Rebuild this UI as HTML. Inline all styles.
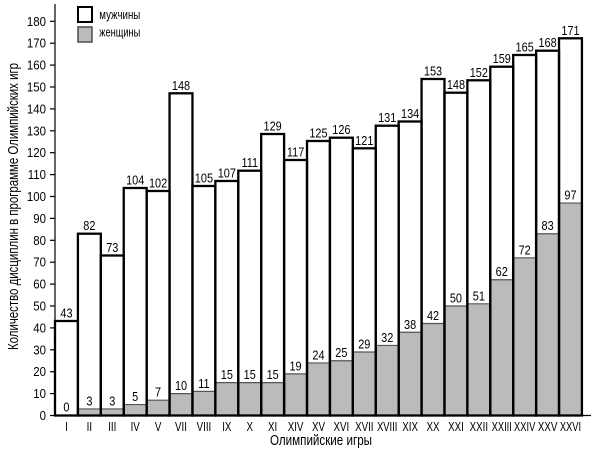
<!DOCTYPE html>
<html><head><meta charset="utf-8"><style>
html,body{margin:0;padding:0;background:#fff;}
svg{display:block;}
text{font-family:"Liberation Sans",sans-serif;fill:#000;}
</style></head><body>
<svg width="600" height="454" viewBox="0 0 600 454" xmlns="http://www.w3.org/2000/svg">
<rect x="0" y="0" width="600" height="454" fill="#fff"/>
<!-- grey (women) fills -->
<g fill="#bbbbbb" stroke="none">
<rect x="77.91" y="408.93" width="22.91" height="6.57"/>
<rect x="100.82" y="408.93" width="22.91" height="6.57"/>
<rect x="123.73" y="404.55" width="22.91" height="10.95"/>
<rect x="146.64" y="400.17" width="22.91" height="15.33"/>
<rect x="169.55" y="393.6" width="22.91" height="21.9"/>
<rect x="192.46" y="391.41" width="22.91" height="24.09"/>
<rect x="215.37" y="382.65" width="22.91" height="32.85"/>
<rect x="238.28" y="382.65" width="22.91" height="32.85"/>
<rect x="261.19" y="382.65" width="22.91" height="32.85"/>
<rect x="284.10" y="373.89" width="22.91" height="41.61"/>
<rect x="307.01" y="362.94" width="22.91" height="52.56"/>
<rect x="329.92" y="360.75" width="22.91" height="54.75"/>
<rect x="352.83" y="351.99" width="22.91" height="63.51"/>
<rect x="375.74" y="345.42" width="22.91" height="70.08"/>
<rect x="398.65" y="332.28" width="22.91" height="83.22"/>
<rect x="421.56" y="323.52" width="22.91" height="91.98"/>
<rect x="444.47" y="306.0" width="22.91" height="109.5"/>
<rect x="467.38" y="303.81" width="22.91" height="111.69"/>
<rect x="490.29" y="279.72" width="22.91" height="135.78"/>
<rect x="513.20" y="257.82" width="22.91" height="157.68"/>
<rect x="536.11" y="233.73" width="22.91" height="181.77"/>
<rect x="559.02" y="203.07" width="22.91" height="212.43"/>
</g>
<!-- grey top lines -->
<g stroke="#555" stroke-width="1.2">
<line x1="77.91" x2="100.82" y1="408.93" y2="408.93"/>
<line x1="100.82" x2="123.73" y1="408.93" y2="408.93"/>
<line x1="123.73" x2="146.64" y1="404.55" y2="404.55"/>
<line x1="146.64" x2="169.55" y1="400.17" y2="400.17"/>
<line x1="169.55" x2="192.46" y1="393.6" y2="393.6"/>
<line x1="192.46" x2="215.37" y1="391.41" y2="391.41"/>
<line x1="215.37" x2="238.28" y1="382.65" y2="382.65"/>
<line x1="238.28" x2="261.19" y1="382.65" y2="382.65"/>
<line x1="261.19" x2="284.10" y1="382.65" y2="382.65"/>
<line x1="284.10" x2="307.01" y1="373.89" y2="373.89"/>
<line x1="307.01" x2="329.92" y1="362.94" y2="362.94"/>
<line x1="329.92" x2="352.83" y1="360.75" y2="360.75"/>
<line x1="352.83" x2="375.74" y1="351.99" y2="351.99"/>
<line x1="375.74" x2="398.65" y1="345.42" y2="345.42"/>
<line x1="398.65" x2="421.56" y1="332.28" y2="332.28"/>
<line x1="421.56" x2="444.47" y1="323.52" y2="323.52"/>
<line x1="444.47" x2="467.38" y1="306.0" y2="306.0"/>
<line x1="467.38" x2="490.29" y1="303.81" y2="303.81"/>
<line x1="490.29" x2="513.20" y1="279.72" y2="279.72"/>
<line x1="513.20" x2="536.11" y1="257.82" y2="257.82"/>
<line x1="536.11" x2="559.02" y1="233.73" y2="233.73"/>
<line x1="559.02" x2="581.93" y1="203.07" y2="203.07"/>
</g>
<!-- axes -->
<g stroke="#000" stroke-width="1.2">
<line x1="55" y1="4" x2="55" y2="415.5"/>
<line x1="55" y1="415.5" x2="591" y2="415.5"/>
<line x1="50" x2="55" y1="415.5" y2="415.5"/>
<line x1="50" x2="55" y1="393.6" y2="393.6"/>
<line x1="50" x2="55" y1="371.7" y2="371.7"/>
<line x1="50" x2="55" y1="349.8" y2="349.8"/>
<line x1="50" x2="55" y1="327.9" y2="327.9"/>
<line x1="50" x2="55" y1="306.0" y2="306.0"/>
<line x1="50" x2="55" y1="284.1" y2="284.1"/>
<line x1="50" x2="55" y1="262.2" y2="262.2"/>
<line x1="50" x2="55" y1="240.3" y2="240.3"/>
<line x1="50" x2="55" y1="218.4" y2="218.4"/>
<line x1="50" x2="55" y1="196.5" y2="196.5"/>
<line x1="50" x2="55" y1="174.6" y2="174.6"/>
<line x1="50" x2="55" y1="152.7" y2="152.7"/>
<line x1="50" x2="55" y1="130.8" y2="130.8"/>
<line x1="50" x2="55" y1="108.9" y2="108.9"/>
<line x1="50" x2="55" y1="87.0" y2="87.0"/>
<line x1="50" x2="55" y1="65.1" y2="65.1"/>
<line x1="50" x2="55" y1="43.2" y2="43.2"/>
<line x1="50" x2="55" y1="21.3" y2="21.3"/>
</g>
<!-- bar outlines -->
<g fill="none" stroke="#000" stroke-width="2.3">
<rect x="55" y="321" width="22.91" height="94.5"/>
<rect x="77.91" y="233.7" width="22.91" height="181.8"/>
<rect x="100.82" y="255.5" width="22.91" height="160"/>
<rect x="123.73" y="188" width="22.91" height="227.5"/>
<rect x="146.64" y="191" width="22.91" height="224.5"/>
<rect x="169.55" y="93.3" width="22.91" height="322.2"/>
<rect x="192.46" y="186" width="22.91" height="229.5"/>
<rect x="215.37" y="181" width="22.91" height="234.5"/>
<rect x="238.28" y="170.7" width="22.91" height="244.8"/>
<rect x="261.19" y="134" width="22.91" height="281.5"/>
<rect x="284.10" y="160" width="22.91" height="255.5"/>
<rect x="307.01" y="141" width="22.91" height="274.5"/>
<rect x="329.92" y="137.7" width="22.91" height="277.8"/>
<rect x="352.83" y="148.3" width="22.91" height="267.2"/>
<rect x="375.74" y="125.7" width="22.91" height="289.8"/>
<rect x="398.65" y="121.5" width="22.91" height="294"/>
<rect x="421.56" y="79" width="22.91" height="336.5"/>
<rect x="444.47" y="92.7" width="22.91" height="322.8"/>
<rect x="467.38" y="80.3" width="22.91" height="335.2"/>
<rect x="490.29" y="66.7" width="22.91" height="348.8"/>
<rect x="513.20" y="55" width="22.91" height="360.5"/>
<rect x="536.11" y="50.7" width="22.91" height="364.8"/>
<rect x="559.02" y="38.3" width="22.91" height="377.2"/>
</g>
<!-- y tick labels -->
<g font-size="13" text-anchor="end">
<text transform="translate(46,420) scale(0.88,1)">0</text>
<text transform="translate(46,398.1) scale(0.88,1)">10</text>
<text transform="translate(46,376.2) scale(0.88,1)">20</text>
<text transform="translate(46,354.3) scale(0.88,1)">30</text>
<text transform="translate(46,332.4) scale(0.88,1)">40</text>
<text transform="translate(46,310.5) scale(0.88,1)">50</text>
<text transform="translate(46,288.6) scale(0.88,1)">60</text>
<text transform="translate(46,266.7) scale(0.88,1)">70</text>
<text transform="translate(46,244.8) scale(0.88,1)">80</text>
<text transform="translate(46,222.9) scale(0.88,1)">90</text>
<text transform="translate(46,201) scale(0.88,1)">100</text>
<text transform="translate(46,179.1) scale(0.88,1)">110</text>
<text transform="translate(46,157.2) scale(0.88,1)">120</text>
<text transform="translate(46,135.3) scale(0.88,1)">130</text>
<text transform="translate(46,113.4) scale(0.88,1)">140</text>
<text transform="translate(46,91.5) scale(0.88,1)">150</text>
<text transform="translate(46,69.6) scale(0.88,1)">160</text>
<text transform="translate(46,47.7) scale(0.88,1)">170</text>
<text transform="translate(46,25.8) scale(0.88,1)">180</text>
</g>
<!-- men value labels -->
<g font-size="13" text-anchor="middle">
<text transform="translate(66.46,317.5) scale(0.84,1)">43</text>
<text transform="translate(89.37,230.2) scale(0.84,1)">82</text>
<text transform="translate(112.28,252) scale(0.84,1)">73</text>
<text transform="translate(135.19,184.5) scale(0.84,1)">104</text>
<text transform="translate(158.10,187.5) scale(0.84,1)">102</text>
<text transform="translate(181.01,89.8) scale(0.84,1)">148</text>
<text transform="translate(203.92,182.5) scale(0.84,1)">105</text>
<text transform="translate(226.83,177.5) scale(0.84,1)">107</text>
<text transform="translate(249.74,167.2) scale(0.84,1)">111</text>
<text transform="translate(272.65,130.5) scale(0.84,1)">129</text>
<text transform="translate(295.56,156.5) scale(0.84,1)">117</text>
<text transform="translate(318.47,137.5) scale(0.84,1)">125</text>
<text transform="translate(341.38,134.2) scale(0.84,1)">126</text>
<text transform="translate(364.29,144.8) scale(0.84,1)">121</text>
<text transform="translate(387.20,122.2) scale(0.84,1)">131</text>
<text transform="translate(410.11,118) scale(0.84,1)">134</text>
<text transform="translate(433.02,75.5) scale(0.84,1)">153</text>
<text transform="translate(455.93,89.2) scale(0.84,1)">148</text>
<text transform="translate(478.84,76.8) scale(0.84,1)">152</text>
<text transform="translate(501.75,63.2) scale(0.84,1)">159</text>
<text transform="translate(524.66,51.5) scale(0.84,1)">165</text>
<text transform="translate(547.57,47.2) scale(0.84,1)">168</text>
<text transform="translate(570.48,34.8) scale(0.84,1)">171</text>
</g>
<!-- women value labels -->
<g font-size="13" text-anchor="middle">
<text transform="translate(66.46,411.5) scale(0.84,1)">0</text>
<text transform="translate(89.37,405.4) scale(0.84,1)">3</text>
<text transform="translate(112.28,405.4) scale(0.84,1)">3</text>
<text transform="translate(135.19,401) scale(0.84,1)">5</text>
<text transform="translate(158.10,396.7) scale(0.84,1)">7</text>
<text transform="translate(181.01,390.1) scale(0.84,1)">10</text>
<text transform="translate(203.92,387.9) scale(0.84,1)">11</text>
<text transform="translate(226.83,379.1) scale(0.84,1)">15</text>
<text transform="translate(249.74,379.1) scale(0.84,1)">15</text>
<text transform="translate(272.65,379.1) scale(0.84,1)">15</text>
<text transform="translate(295.56,370.4) scale(0.84,1)">19</text>
<text transform="translate(318.47,359.4) scale(0.84,1)">24</text>
<text transform="translate(341.38,357.2) scale(0.84,1)">25</text>
<text transform="translate(364.29,348.5) scale(0.84,1)">29</text>
<text transform="translate(387.20,341.9) scale(0.84,1)">32</text>
<text transform="translate(410.11,328.8) scale(0.84,1)">38</text>
<text transform="translate(433.02,320) scale(0.84,1)">42</text>
<text transform="translate(455.93,302.5) scale(0.84,1)">50</text>
<text transform="translate(478.84,300.3) scale(0.84,1)">51</text>
<text transform="translate(501.75,276.2) scale(0.84,1)">62</text>
<text transform="translate(524.66,254.3) scale(0.84,1)">72</text>
<text transform="translate(547.57,230.2) scale(0.84,1)">83</text>
<text transform="translate(570.48,199.6) scale(0.84,1)">97</text>
</g>
<!-- x tick labels -->
<g font-size="13" text-anchor="middle">
<text transform="translate(66.46,431) scale(0.75,1)">I</text>
<text transform="translate(89.37,431) scale(0.75,1)">II</text>
<text transform="translate(112.28,431) scale(0.75,1)">III</text>
<text transform="translate(135.19,431) scale(0.75,1)">IV</text>
<text transform="translate(158.10,431) scale(0.75,1)">V</text>
<text transform="translate(181.01,431) scale(0.75,1)">VII</text>
<text transform="translate(203.92,431) scale(0.75,1)">VIII</text>
<text transform="translate(226.83,431) scale(0.75,1)">IX</text>
<text transform="translate(249.74,431) scale(0.75,1)">X</text>
<text transform="translate(272.65,431) scale(0.75,1)">XI</text>
<text transform="translate(295.56,431) scale(0.75,1)">XIV</text>
<text transform="translate(318.47,431) scale(0.75,1)">XV</text>
<text transform="translate(341.38,431) scale(0.75,1)">XVI</text>
<text transform="translate(364.29,431) scale(0.75,1)">XVII</text>
<text transform="translate(387.20,431) scale(0.72,1)">XVIII</text>
<text transform="translate(410.11,431) scale(0.75,1)">XIX</text>
<text transform="translate(433.02,431) scale(0.75,1)">XX</text>
<text transform="translate(455.93,431) scale(0.75,1)">XXI</text>
<text transform="translate(478.84,431) scale(0.75,1)">XXII</text>
<text transform="translate(501.75,431) scale(0.72,1)">XXIII</text>
<text transform="translate(524.66,431) scale(0.72,1)">XXIV</text>
<text transform="translate(547.57,431) scale(0.75,1)">XXV</text>
<text transform="translate(570.48,431) scale(0.72,1)">XXVI</text>
</g>
<!-- axis titles -->
<text x="321" y="445" font-size="15" text-anchor="middle" textLength="102" lengthAdjust="spacingAndGlyphs">Олимпийские игры</text>
<text transform="translate(18,206.5) rotate(-90)" font-size="15" text-anchor="middle" textLength="287" lengthAdjust="spacingAndGlyphs">Количество дисциплин в программе Олимпийских игр</text>
<!-- legend -->
<rect x="78" y="7" width="14" height="15" fill="#fff" stroke="#000" stroke-width="2"/>
<rect x="78" y="27" width="14" height="15" fill="#bbbbbb" stroke="#555" stroke-width="1.6"/>
<text x="99.3" y="19" font-size="13" textLength="41" lengthAdjust="spacingAndGlyphs">мужчины</text>
<text x="99.3" y="36.7" font-size="13" textLength="41" lengthAdjust="spacingAndGlyphs">женщины</text>
</svg>
</body></html>
